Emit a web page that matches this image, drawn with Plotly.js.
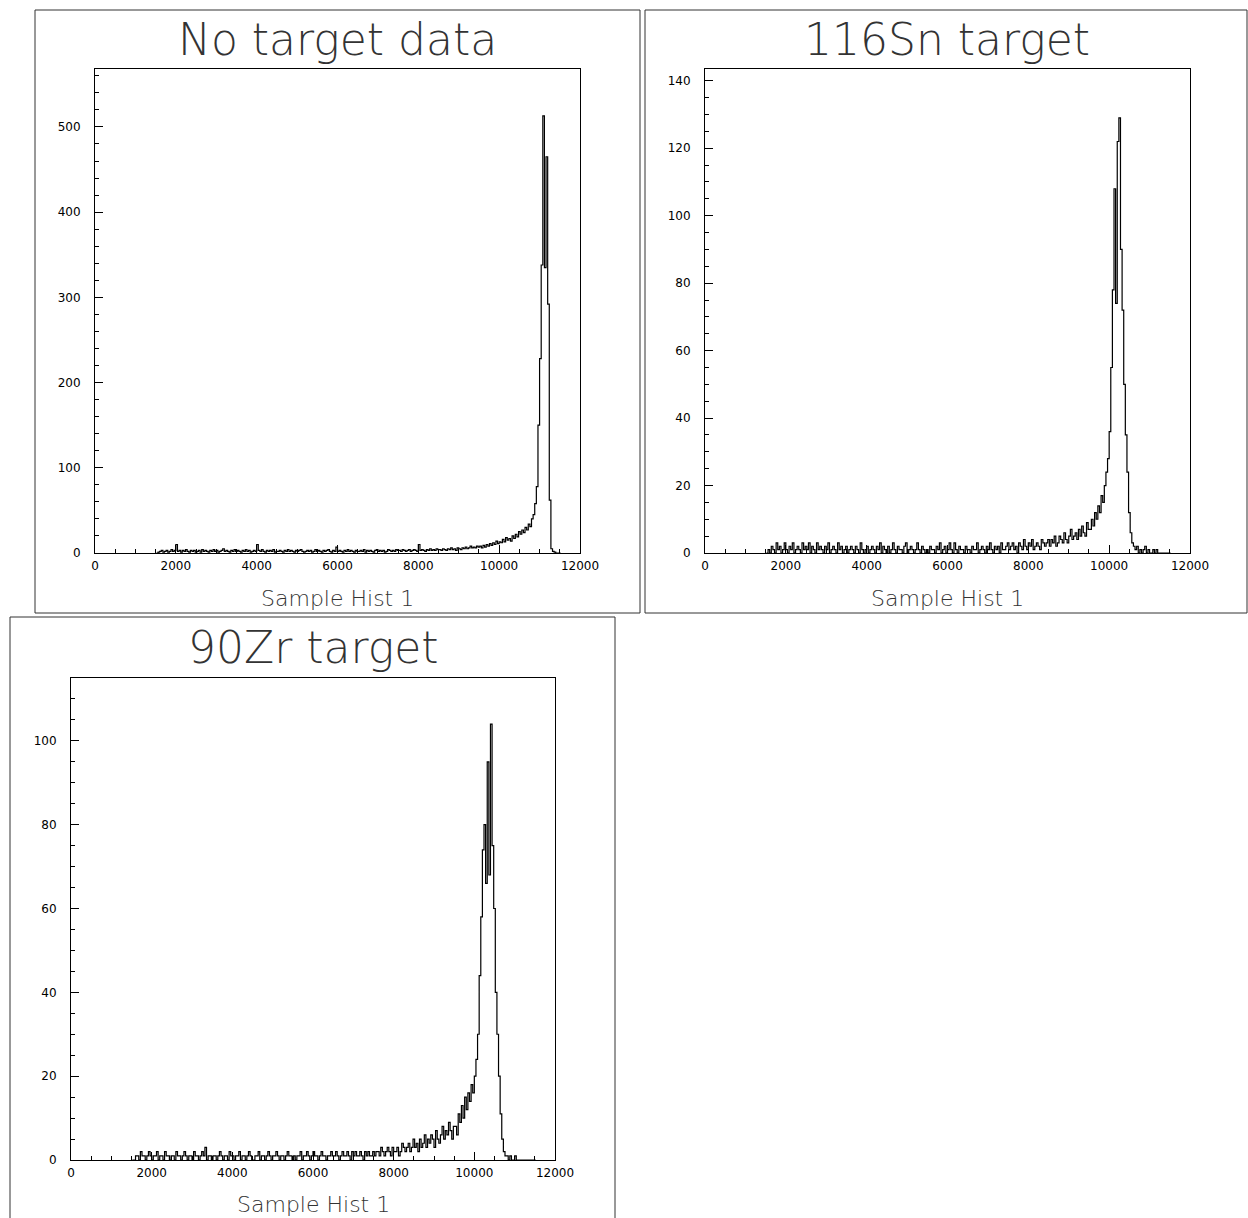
<!DOCTYPE html>
<html><head><meta charset="utf-8">
<script src="https://cdn.plot.ly/plotly-3.0.1.min.js"></script>
<style>body{margin:0;padding:0;background:#fff}#chart{width:1248px;height:1218px}</style>
</head><body><div id="chart"></div>
<script>
// Histogram binning (left edge of first bin, bin width)
const binStart = 1520;
const binWidth = 40;

const panelTitles = ["No target data", "116Sn target", "90Zr target"];
const xAxisLabel = "Sample Hist 1";
const xTickVals = [0, 2000, 4000, 6000, 8000, 10000, 12000];
const xTickText = ["0", "2000", "4000", "6000", "8000", "10000", "12000"];

// Counts per bin, 1520 .. 11520 (rows of 25 bins = 1000 units)
const countsNoTarget = [
  0,1,2,3,1,2,3,1,2,4,2,3,10,2,3,1,3,2,4,2,1,3,2,3,1,
  2,3,1,4,2,3,2,1,3,2,4,2,3,1,2,3,5,2,3,2,1,3,2,4,2,
  3,2,1,3,2,4,2,3,1,2,3,2,10,3,2,4,2,1,3,2,3,2,4,1,2,
  2,3,2,1,3,2,4,2,3,2,1,3,2,3,4,2,1,2,3,2,3,1,2,4,2,
  3,2,1,3,2,3,4,2,1,3,2,7,2,3,2,1,3,2,4,2,3,2,1,3,2,
  2,3,2,4,1,3,2,3,2,1,3,4,2,3,2,3,1,2,4,3,2,3,2,4,3,
  3,2,4,3,2,3,4,2,3,4,3,2,10,3,4,3,2,4,3,5,3,4,3,5,4,
  4,3,5,4,3,5,4,6,4,5,3,6,5,4,6,5,7,5,6,8,6,7,6,8,7,
  8,6,9,7,10,8,11,9,12,10,14,11,13,12,16,13,18,15,17,14,20,17,22,19,25,
  22,27,24,30,27,34,31,40,45,58,78,150,228,338,513,335,465,292,62,5,2,1,0,0,0
];
const counts116Sn = [
  0,1,0,2,1,0,3,1,2,0,1,3,1,0,2,1,3,0,1,2,1,0,3,1,2,
  1,3,0,2,1,0,3,1,2,1,0,2,1,3,0,1,2,1,0,3,1,2,0,1,2,
  0,1,2,1,0,2,1,0,3,1,0,1,2,0,1,2,1,0,2,1,3,0,2,1,0,
  2,0,1,3,1,0,2,1,1,0,2,3,0,1,2,1,0,1,3,1,0,2,1,0,1,
  0,2,1,1,0,2,1,3,0,1,2,0,1,3,1,0,3,1,0,2,1,1,0,2,1,
  1,0,2,1,1,3,0,1,2,1,0,2,1,3,1,0,2,1,2,0,3,1,1,2,3,
  1,2,3,1,2,0,3,2,1,4,2,1,3,2,4,1,2,3,2,1,4,3,2,3,4,
  2,4,3,5,2,3,5,4,3,6,4,3,5,7,4,5,6,4,7,5,8,6,5,9,7,
  7,10,8,12,10,14,12,17,15,20,24,28,36,55,78,108,74,122,129,90,72,50,35,24,12,
  6,3,2,1,2,0,1,0,1,2,0,1,0,0,1,0,1,0,0,0,0,0,0,0,0
];
const counts90Zr = [
  0,0,1,1,0,2,1,1,0,1,2,1,0,1,1,2,0,1,1,0,2,1,1,0,1,
  1,0,2,1,1,0,1,2,1,0,1,1,0,2,1,1,0,1,2,1,3,0,1,1,0,
  1,1,0,1,2,1,0,1,1,0,2,1,1,0,1,1,2,0,1,1,0,1,2,1,0,
  0,1,1,2,0,1,1,0,1,2,1,0,1,1,2,1,0,1,1,0,1,2,1,1,0,
  1,0,1,1,2,0,1,1,2,1,0,1,2,1,1,0,1,2,1,1,0,1,1,2,1,
  1,2,1,0,1,2,1,1,2,1,0,2,1,2,1,1,2,1,0,2,1,2,1,1,2,
  1,2,2,1,3,2,1,2,3,2,1,3,2,2,3,1,2,4,3,2,3,4,2,3,5,
  3,4,2,5,3,4,6,3,5,4,6,5,3,7,5,4,6,8,5,7,6,9,7,5,8,
  8,6,11,9,13,10,15,12,16,14,18,16,20,24,30,44,58,74,80,66,95,68,104,75,60,
  40,30,20,11,5,2,1,1,0,1,0,0,1,0,0,0,0,0,0,0,0,0,0,0,0
];

const yRanges = [[0, 568], [0, 143.5], [0, 115]];
const yMajor = [100, 20, 20];
const yMinor = [20, 5, 5];

// ---- drawing ----
const W = 1248, H = 1218;
const px = v => v / W;
const py = v => 1 - v / H;

function stepTrace(counts, xa, ya) {
  const x = [binStart], y = [0];
  counts.forEach((c, i) => { x.push(binStart + i * binWidth); y.push(c); });
  x.push(binStart + counts.length * binWidth); y.push(counts[counts.length - 1]);
  x.push(binStart + counts.length * binWidth); y.push(0);
  return {type: 'scatter', mode: 'lines', x, y, xaxis: xa, yaxis: ya,
          line: {shape: 'hv', color: '#000', width: 1.2}, hoverinfo: 'skip', showlegend: false};
}

const data = [
  stepTrace(countsNoTarget, 'x', 'y'),
  stepTrace(counts116Sn, 'x2', 'y2'),
  stepTrace(counts90Zr, 'x3', 'y3')
];

const tickFont = {family: 'DejaVu Sans, Liberation Sans, sans-serif', size: 12, color: '#000'};
function xAxis(domain, anchor) {
  return {domain, anchor, range: [0, 12000], tickvals: xTickVals, ticktext: xTickText, ticks: 'inside', ticklen: 8,
    tickcolor: '#000', tickwidth: 1, showline: true, mirror: true, linecolor: '#000', linewidth: 1,
    showgrid: false, zeroline: false, tickfont: tickFont, ticklabelstandoff: 2,
    minor: {ticks: 'inside', dtick: 500, tick0: 0, ticklen: 4, tickcolor: '#000', showgrid: false}};
}
function yAxis(domain, anchor, k) {
  return {domain, anchor, range: yRanges[k], dtick: yMajor[k], tick0: 0, ticks: 'inside', ticklen: 8,
    tickcolor: '#000', tickwidth: 1, showline: true, mirror: true, linecolor: '#000', linewidth: 1,
    showgrid: false, zeroline: false, tickfont: tickFont, ticklabelstandoff: 11,
    minor: {ticks: 'inside', dtick: yMinor[k], tick0: 0, ticklen: 4, tickcolor: '#000', showgrid: false}};
}

const titleFont = {family: 'DejaVu Sans, Noto Sans, sans-serif', size: 44, color: '#333', weight: 200};
const labelFont = {family: 'DejaVu Sans, Noto Sans, sans-serif', size: 22, color: '#333', weight: 200};

const boxes = [[35, 10, 640, 613], [645, 10, 1247, 613], [10, 617, 615, 1230]];
const shapes = boxes.map(b => ({type: 'rect', xref: 'paper', yref: 'paper',
  x0: px(b[0]), x1: px(b[2]), y0: py(b[3]), y1: py(b[1]), line: {color: '#333', width: 1}}));

const annotations = [
  {text: panelTitles[0], x: px(337.5), y: py(39), font: titleFont},
  {text: panelTitles[1], x: px(947), y: py(39), font: titleFont},
  {text: panelTitles[2], x: px(313), y: py(647), font: titleFont},
  {text: xAxisLabel, x: px(337.5), y: py(598), font: labelFont},
  {text: xAxisLabel, x: px(947), y: py(598), font: labelFont},
  {text: xAxisLabel, x: px(313), y: py(1204), font: labelFont}
].map(a => Object.assign({xref: 'paper', yref: 'paper', xanchor: 'center', yanchor: 'middle', showarrow: false}, a));

const layout = {
  width: W, height: H, autosize: false,
  margin: {l: 0, r: 0, t: 0, b: 0, pad: 0},
  paper_bgcolor: '#fff', plot_bgcolor: '#fff',
  showlegend: false,
  xaxis: xAxis([px(95), px(580)], 'y'),
  yaxis: yAxis([py(553), py(69)], 'x', 0),
  xaxis2: xAxis([px(705), px(1190)], 'y2'),
  yaxis2: yAxis([py(553), py(69)], 'x2', 1),
  xaxis3: xAxis([px(71), px(555)], 'y3'),
  yaxis3: yAxis([py(1160), py(678)], 'x3', 2),
  shapes, annotations
};

Plotly.newPlot('chart', data, layout, {displayModeBar: false, staticPlot: true});
</script>
</body></html>
